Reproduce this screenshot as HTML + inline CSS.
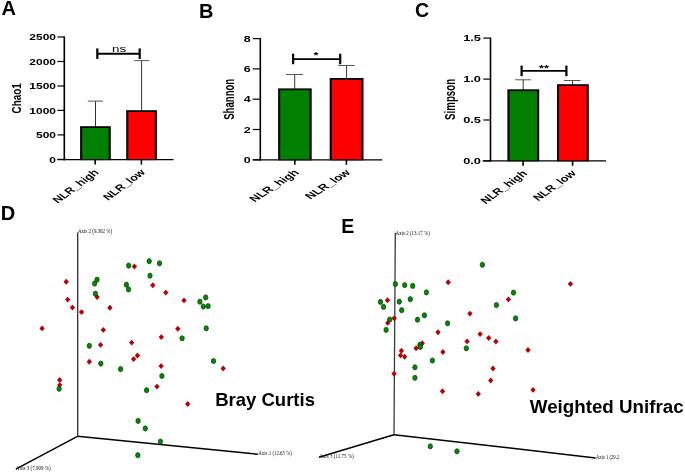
<!DOCTYPE html>
<html><head><meta charset="utf-8"><style>
html,body{margin:0;padding:0;background:#fff;}
body{width:685px;height:472px;overflow:hidden;}
svg{display:block;font-family:"Liberation Sans", sans-serif;will-change:transform;}
</style></head><body>
<svg width="685" height="472" viewBox="0 0 685 472">
<rect width="685" height="472" fill="#fff"/>
<text transform="translate(1.5,14.8)" font-size="20" font-weight="bold" text-anchor="start" fill="#000" >A</text>
<text transform="translate(198.9,17.8)" font-size="20" font-weight="bold" text-anchor="start" fill="#000" >B</text>
<text transform="translate(415.0,16.6)" font-size="19.6" font-weight="bold" text-anchor="start" fill="#000" >C</text>
<text transform="translate(0.8,220.1)" font-size="20" font-weight="bold" text-anchor="start" fill="#000" >D</text>
<text transform="translate(341.2,232.7)" font-size="19.5" font-weight="bold" text-anchor="start" fill="#000" >E</text>
<line x1="64.3" y1="36.5" x2="64.3" y2="160.35" stroke="#000" stroke-width="1.6"/>
<line x1="57.5" y1="37.0" x2="64.3" y2="37.0" stroke="#000" stroke-width="1.2"/>
<text transform="translate(56.0,40.1) scale(1,0.8)" font-size="12" font-weight="bold" text-anchor="end" fill="#000" >2500</text>
<line x1="57.5" y1="61.5" x2="64.3" y2="61.5" stroke="#000" stroke-width="1.2"/>
<text transform="translate(56.0,64.6) scale(1,0.8)" font-size="12" font-weight="bold" text-anchor="end" fill="#000" >2000</text>
<line x1="57.5" y1="86.0" x2="64.3" y2="86.0" stroke="#000" stroke-width="1.2"/>
<text transform="translate(56.0,89.1) scale(1,0.8)" font-size="12" font-weight="bold" text-anchor="end" fill="#000" >1500</text>
<line x1="57.5" y1="110.4" x2="64.3" y2="110.4" stroke="#000" stroke-width="1.2"/>
<text transform="translate(56.0,113.5) scale(1,0.8)" font-size="12" font-weight="bold" text-anchor="end" fill="#000" >1000</text>
<line x1="57.5" y1="134.9" x2="64.3" y2="134.9" stroke="#000" stroke-width="1.2"/>
<text transform="translate(56.0,138.0) scale(1,0.8)" font-size="12" font-weight="bold" text-anchor="end" fill="#000" >500</text>
<line x1="57.5" y1="159.4" x2="64.3" y2="159.4" stroke="#000" stroke-width="1.2"/>
<text transform="translate(56.0,162.5) scale(1,0.8)" font-size="12" font-weight="bold" text-anchor="end" fill="#000" >0</text>
<line x1="57.5" y1="159.6" x2="173.5" y2="159.6" stroke="#000" stroke-width="1.35"/>
<line x1="95.2" y1="159.6" x2="95.2" y2="164.6" stroke="#000" stroke-width="1.6"/>
<line x1="141.4" y1="159.6" x2="141.4" y2="164.6" stroke="#000" stroke-width="1.6"/>
<line x1="95.5" y1="101.1" x2="95.5" y2="127" stroke="#333" stroke-width="1.0"/>
<line x1="87.8" y1="101.1" x2="102.9" y2="101.1" stroke="#555" stroke-width="1.0"/>
<line x1="141.6" y1="60.6" x2="141.6" y2="111" stroke="#333" stroke-width="1.0"/>
<line x1="134.1" y1="60.6" x2="149.1" y2="60.6" stroke="#555" stroke-width="1.0"/>
<rect x="80.10" y="126.20" width="30.70" height="33.90" fill="#000"/>
<rect x="82.20" y="128.00" width="26.50" height="31.10" fill="#007f00"/>
<rect x="126.20" y="110.20" width="30.70" height="49.90" fill="#000"/>
<rect x="128.30" y="112.00" width="26.50" height="47.10" fill="#ff0000"/>
<line x1="97.3" y1="53.7" x2="139.7" y2="53.7" stroke="#000" stroke-width="1.9"/>
<line x1="97.3" y1="48.4" x2="97.3" y2="58.9" stroke="#000" stroke-width="2.2"/>
<line x1="139.7" y1="48.4" x2="139.7" y2="58.9" stroke="#000" stroke-width="2.2"/>
<text transform="translate(119.2,51.9) scale(1,0.74)" font-size="13.5" font-weight="normal" text-anchor="middle" fill="#000" >ns</text>
<text transform="translate(20.9,98.4) scale(1,0.732) rotate(-90)" font-size="13.5" font-weight="bold" text-anchor="middle" fill="#000" >Chao1</text>
<text transform="translate(99.5,173.0) scale(1,0.74) rotate(-45)" font-size="12.5" font-weight="bold" text-anchor="end" fill="#000" >NLR_high</text>
<text transform="translate(146.0,173.0) scale(1,0.74) rotate(-45)" font-size="12.5" font-weight="bold" text-anchor="end" fill="#000" >NLR_low</text>
<line x1="260.3" y1="38.1" x2="260.3" y2="160.55" stroke="#000" stroke-width="1.6"/>
<line x1="252.7" y1="38.6" x2="260.3" y2="38.6" stroke="#000" stroke-width="1.2"/>
<text transform="translate(250.6,41.7) scale(1,0.74)" font-size="12.5" font-weight="bold" text-anchor="end" fill="#000" >8</text>
<line x1="252.7" y1="68.9" x2="260.3" y2="68.9" stroke="#000" stroke-width="1.2"/>
<text transform="translate(250.6,72.0) scale(1,0.74)" font-size="12.5" font-weight="bold" text-anchor="end" fill="#000" >6</text>
<line x1="252.7" y1="99.2" x2="260.3" y2="99.2" stroke="#000" stroke-width="1.2"/>
<text transform="translate(250.6,102.3) scale(1,0.74)" font-size="12.5" font-weight="bold" text-anchor="end" fill="#000" >4</text>
<line x1="252.7" y1="129.5" x2="260.3" y2="129.5" stroke="#000" stroke-width="1.2"/>
<text transform="translate(250.6,132.6) scale(1,0.74)" font-size="12.5" font-weight="bold" text-anchor="end" fill="#000" >2</text>
<line x1="252.7" y1="159.8" x2="260.3" y2="159.8" stroke="#000" stroke-width="1.2"/>
<text transform="translate(250.6,162.9) scale(1,0.74)" font-size="12.5" font-weight="bold" text-anchor="end" fill="#000" >0</text>
<line x1="252.7" y1="159.8" x2="382.3" y2="159.8" stroke="#000" stroke-width="1.35"/>
<line x1="294.8" y1="159.8" x2="294.8" y2="164.8" stroke="#000" stroke-width="1.6"/>
<line x1="346.4" y1="159.8" x2="346.4" y2="164.8" stroke="#000" stroke-width="1.6"/>
<line x1="294.7" y1="74.5" x2="294.7" y2="89" stroke="#333" stroke-width="1.0"/>
<line x1="286.0" y1="74.5" x2="303.1" y2="74.5" stroke="#555" stroke-width="1.0"/>
<line x1="346.6" y1="65.5" x2="346.6" y2="79" stroke="#333" stroke-width="1.0"/>
<line x1="338.1" y1="65.5" x2="354.9" y2="65.5" stroke="#555" stroke-width="1.0"/>
<rect x="278.10" y="88.40" width="33.60" height="71.90" fill="#000"/>
<rect x="280.20" y="90.20" width="29.40" height="69.10" fill="#007f00"/>
<rect x="329.70" y="78.00" width="33.80" height="82.30" fill="#000"/>
<rect x="331.80" y="79.80" width="29.60" height="79.50" fill="#ff0000"/>
<line x1="293.1" y1="59.1" x2="340.2" y2="59.1" stroke="#000" stroke-width="1.9"/>
<line x1="293.1" y1="53.7" x2="293.1" y2="64.2" stroke="#000" stroke-width="2.2"/>
<line x1="340.2" y1="53.7" x2="340.2" y2="64.2" stroke="#000" stroke-width="2.2"/>
<text transform="translate(315.9,58.0) scale(1,0.74)" font-size="12.8" font-weight="bold" text-anchor="middle" fill="#000" >*</text>
<text transform="translate(234.0,99.3) scale(1,0.64) rotate(-90)" font-size="15" font-weight="bold" text-anchor="middle" fill="#000" >Shannon</text>
<text transform="translate(299.8,173.2) scale(1,0.65) rotate(-45)" font-size="13.5" font-weight="bold" text-anchor="end" fill="#000" >NLR_high</text>
<text transform="translate(351.3,173.2) scale(1,0.65) rotate(-45)" font-size="13.5" font-weight="bold" text-anchor="end" fill="#000" >NLR_low</text>
<line x1="490.5" y1="37.6" x2="490.5" y2="161.55" stroke="#000" stroke-width="1.6"/>
<line x1="483.3" y1="38.1" x2="490.5" y2="38.1" stroke="#000" stroke-width="1.2"/>
<text transform="translate(481.0,41.2) scale(1,0.72)" font-size="12.8" font-weight="bold" text-anchor="end" fill="#000" >1.5</text>
<line x1="483.3" y1="79.1" x2="490.5" y2="79.1" stroke="#000" stroke-width="1.2"/>
<text transform="translate(481.0,82.19999999999999) scale(1,0.72)" font-size="12.8" font-weight="bold" text-anchor="end" fill="#000" >1.0</text>
<line x1="483.3" y1="120.0" x2="490.5" y2="120.0" stroke="#000" stroke-width="1.2"/>
<text transform="translate(481.0,123.1) scale(1,0.72)" font-size="12.8" font-weight="bold" text-anchor="end" fill="#000" >0.5</text>
<line x1="483.3" y1="160.9" x2="490.5" y2="160.9" stroke="#000" stroke-width="1.2"/>
<text transform="translate(481.0,164.0) scale(1,0.72)" font-size="12.8" font-weight="bold" text-anchor="end" fill="#000" >0.0</text>
<line x1="482.7" y1="160.8" x2="606.0" y2="160.8" stroke="#000" stroke-width="1.35"/>
<line x1="523.1" y1="160.8" x2="523.1" y2="165.8" stroke="#000" stroke-width="1.6"/>
<line x1="572.6" y1="160.8" x2="572.6" y2="165.8" stroke="#000" stroke-width="1.6"/>
<line x1="523.2" y1="79.8" x2="523.2" y2="90" stroke="#333" stroke-width="1.0"/>
<line x1="515.0" y1="79.8" x2="530.9" y2="79.8" stroke="#555" stroke-width="1.0"/>
<line x1="572.6" y1="80.5" x2="572.6" y2="85" stroke="#333" stroke-width="1.0"/>
<line x1="564.0" y1="80.5" x2="580.6" y2="80.5" stroke="#555" stroke-width="1.0"/>
<rect x="507.40" y="89.30" width="31.80" height="72.00" fill="#000"/>
<rect x="509.50" y="91.10" width="27.60" height="69.20" fill="#007f00"/>
<rect x="557.00" y="84.20" width="31.80" height="77.10" fill="#000"/>
<rect x="559.10" y="86.00" width="27.60" height="74.30" fill="#ff0000"/>
<line x1="521.6" y1="70.9" x2="566.4" y2="70.9" stroke="#000" stroke-width="1.9"/>
<line x1="521.6" y1="65.6" x2="521.6" y2="76.2" stroke="#000" stroke-width="2.2"/>
<line x1="566.4" y1="65.6" x2="566.4" y2="76.2" stroke="#000" stroke-width="2.2"/>
<text transform="translate(544.0,71.1) scale(1,0.74)" font-size="12.8" font-weight="bold" text-anchor="middle" fill="#000" >**</text>
<text transform="translate(454.8,99.4) scale(1,0.647) rotate(-90)" font-size="15" font-weight="bold" text-anchor="middle" fill="#000" >Simpson</text>
<text transform="translate(528.0,174.0) scale(1,0.72) rotate(-45)" font-size="12.7" font-weight="bold" text-anchor="end" fill="#000" >NLR_high</text>
<text transform="translate(576.7,174.0) scale(1,0.72) rotate(-45)" font-size="12.7" font-weight="bold" text-anchor="end" fill="#000" >NLR_low</text>
<line x1="77.7" y1="232.5" x2="77.7" y2="436.3" stroke="#2e2e2e" stroke-width="1.3"/>
<line x1="77.5" y1="436.3" x2="15.8" y2="469.1" stroke="#000" stroke-width="1.5"/>
<line x1="77.5" y1="436.3" x2="257.8" y2="454.3" stroke="#000" stroke-width="1.5"/>
<text transform="translate(77.9,232.8)" font-size="5.1" font-weight="normal" text-anchor="start" fill="#111" font-family="Liberation Serif" textLength="34.2" lengthAdjust="spacingAndGlyphs">Axis 2 (9.302 %)</text>
<text transform="translate(16.1,469.8)" font-size="5.1" font-weight="normal" text-anchor="start" fill="#111" font-family="Liberation Serif" textLength="34.5" lengthAdjust="spacingAndGlyphs">Axis 3 (7.909 %)</text>
<text transform="translate(258.3,455.2)" font-size="5.1" font-weight="normal" text-anchor="start" fill="#111" font-family="Liberation Serif" textLength="33.6" lengthAdjust="spacingAndGlyphs">Axis 1 (12.65 %)</text>
<path d="M66.20 278.85L68.85 281.80L66.20 284.75L63.55 281.80Z" fill="#b80000"/>
<path d="M67.70 296.65L70.35 299.60L67.70 302.55L65.05 299.60Z" fill="#b80000"/>
<path d="M72.40 304.65L75.05 307.60L72.40 310.55L69.75 307.60Z" fill="#b80000"/>
<path d="M81.50 309.15L84.15 312.10L81.50 315.05L78.85 312.10Z" fill="#b80000"/>
<path d="M42.10 325.45L44.75 328.40L42.10 331.35L39.45 328.40Z" fill="#b80000"/>
<path d="M97.10 294.05L99.75 297.00L97.10 299.95L94.45 297.00Z" fill="#b80000"/>
<path d="M109.90 304.85L112.55 307.80L109.90 310.75L107.25 307.80Z" fill="#b80000"/>
<path d="M103.30 326.95L105.95 329.90L103.30 332.85L100.65 329.90Z" fill="#b80000"/>
<path d="M100.60 341.95L103.25 344.90L100.60 347.85L97.95 344.90Z" fill="#b80000"/>
<path d="M131.70 339.65L134.35 342.60L131.70 345.55L129.05 342.60Z" fill="#b80000"/>
<path d="M134.40 263.55L137.05 266.50L134.40 269.45L131.75 266.50Z" fill="#b80000"/>
<path d="M152.80 282.25L155.45 285.20L152.80 288.15L150.15 285.20Z" fill="#b80000"/>
<path d="M165.80 289.65L168.45 292.60L165.80 295.55L163.15 292.60Z" fill="#b80000"/>
<path d="M184.00 297.45L186.65 300.40L184.00 303.35L181.35 300.40Z" fill="#b80000"/>
<path d="M177.80 325.85L180.45 328.80L177.80 331.75L175.15 328.80Z" fill="#b80000"/>
<path d="M161.30 334.15L163.95 337.10L161.30 340.05L158.65 337.10Z" fill="#b80000"/>
<path d="M137.40 352.55L140.05 355.50L137.40 358.45L134.75 355.50Z" fill="#b80000"/>
<path d="M133.60 356.15L136.25 359.10L133.60 362.05L130.95 359.10Z" fill="#b80000"/>
<path d="M161.10 363.15L163.75 366.10L161.10 369.05L158.45 366.10Z" fill="#b80000"/>
<path d="M156.90 383.65L159.55 386.60L156.90 389.55L154.25 386.60Z" fill="#b80000"/>
<path d="M187.70 401.05L190.35 404.00L187.70 406.95L185.05 404.00Z" fill="#b80000"/>
<path d="M89.30 358.85L91.95 361.80L89.30 364.75L86.65 361.80Z" fill="#b80000"/>
<path d="M59.70 377.05L62.35 380.00L59.70 382.95L57.05 380.00Z" fill="#b80000"/>
<path d="M59.70 382.15L62.35 385.10L59.70 388.05L57.05 385.10Z" fill="#b80000"/>
<path d="M223.20 365.55L225.85 368.50L223.20 371.45L220.55 368.50Z" fill="#b80000"/>
<ellipse cx="97.0" cy="279.7" rx="2.2" ry="2.6" fill="#008a00" stroke="#003a00" stroke-width="0.7"/>
<ellipse cx="94.6" cy="283.6" rx="2.2" ry="2.6" fill="#008a00" stroke="#003a00" stroke-width="0.7"/>
<ellipse cx="95.4" cy="293.7" rx="2.2" ry="2.6" fill="#008a00" stroke="#003a00" stroke-width="0.7"/>
<ellipse cx="89.3" cy="345.8" rx="2.2" ry="2.6" fill="#008a00" stroke="#003a00" stroke-width="0.7"/>
<ellipse cx="128.7" cy="265.6" rx="2.2" ry="2.6" fill="#008a00" stroke="#003a00" stroke-width="0.7"/>
<ellipse cx="126.4" cy="284.7" rx="2.2" ry="2.6" fill="#008a00" stroke="#003a00" stroke-width="0.7"/>
<ellipse cx="128.5" cy="289.4" rx="2.2" ry="2.6" fill="#008a00" stroke="#003a00" stroke-width="0.7"/>
<ellipse cx="149.2" cy="261.2" rx="2.2" ry="2.6" fill="#008a00" stroke="#003a00" stroke-width="0.7"/>
<ellipse cx="159.5" cy="263.3" rx="2.2" ry="2.6" fill="#008a00" stroke="#003a00" stroke-width="0.7"/>
<ellipse cx="150.0" cy="275.7" rx="2.2" ry="2.6" fill="#008a00" stroke="#003a00" stroke-width="0.7"/>
<ellipse cx="205.7" cy="297.4" rx="2.2" ry="2.6" fill="#008a00" stroke="#003a00" stroke-width="0.7"/>
<ellipse cx="199.9" cy="301.7" rx="2.2" ry="2.6" fill="#008a00" stroke="#003a00" stroke-width="0.7"/>
<ellipse cx="203.3" cy="306.5" rx="2.2" ry="2.6" fill="#008a00" stroke="#003a00" stroke-width="0.7"/>
<ellipse cx="208.1" cy="306.1" rx="2.2" ry="2.6" fill="#008a00" stroke="#003a00" stroke-width="0.7"/>
<ellipse cx="206.2" cy="328.3" rx="2.2" ry="2.6" fill="#008a00" stroke="#003a00" stroke-width="0.7"/>
<ellipse cx="182.1" cy="338.3" rx="2.2" ry="2.6" fill="#008a00" stroke="#003a00" stroke-width="0.7"/>
<ellipse cx="100.8" cy="363.6" rx="2.2" ry="2.6" fill="#008a00" stroke="#003a00" stroke-width="0.7"/>
<ellipse cx="120.6" cy="369.1" rx="2.2" ry="2.6" fill="#008a00" stroke="#003a00" stroke-width="0.7"/>
<ellipse cx="59.1" cy="388.8" rx="2.2" ry="2.6" fill="#008a00" stroke="#003a00" stroke-width="0.7"/>
<ellipse cx="213.5" cy="361.0" rx="2.2" ry="2.6" fill="#008a00" stroke="#003a00" stroke-width="0.7"/>
<ellipse cx="161.9" cy="376.0" rx="2.2" ry="2.6" fill="#008a00" stroke="#003a00" stroke-width="0.7"/>
<ellipse cx="146.6" cy="390.2" rx="2.2" ry="2.6" fill="#008a00" stroke="#003a00" stroke-width="0.7"/>
<ellipse cx="138.1" cy="420.9" rx="2.2" ry="2.6" fill="#008a00" stroke="#003a00" stroke-width="0.7"/>
<ellipse cx="145.3" cy="428.4" rx="2.2" ry="2.6" fill="#008a00" stroke="#003a00" stroke-width="0.7"/>
<ellipse cx="160.4" cy="441.6" rx="2.2" ry="2.6" fill="#008a00" stroke="#003a00" stroke-width="0.7"/>
<ellipse cx="137.8" cy="455.2" rx="2.2" ry="2.6" fill="#008a00" stroke="#003a00" stroke-width="0.7"/>
<text transform="translate(215.2,406.3)" font-size="18.5" font-weight="bold" text-anchor="start" fill="#000" >Bray Curtis</text>
<line x1="395.3" y1="232.8" x2="394.0" y2="434.7" stroke="#3a3a3a" stroke-width="1.3"/>
<line x1="393.9" y1="434.7" x2="318.9" y2="457.3" stroke="#000" stroke-width="1.5"/>
<line x1="393.9" y1="434.7" x2="595.6" y2="457.9" stroke="#000" stroke-width="1.5"/>
<text transform="translate(395.6,234.6)" font-size="5.1" font-weight="normal" text-anchor="start" fill="#111" font-family="Liberation Serif" textLength="34.2" lengthAdjust="spacingAndGlyphs">Axis 2 (13.17 %)</text>
<text transform="translate(319.2,458.0)" font-size="5.1" font-weight="normal" text-anchor="start" fill="#111" font-family="Liberation Serif" textLength="34.5" lengthAdjust="spacingAndGlyphs">Axis 3 (11.75 %)</text>
<text transform="translate(595.9,458.7)" font-size="5.1" font-weight="normal" text-anchor="start" fill="#111" font-family="Liberation Serif" textLength="23.3" lengthAdjust="spacingAndGlyphs">Axis 1 (29.2</text>
<path d="M448.20 279.25L450.85 282.20L448.20 285.15L445.55 282.20Z" fill="#b80000"/>
<path d="M387.50 297.25L390.15 300.20L387.50 303.15L384.85 300.20Z" fill="#b80000"/>
<path d="M394.20 315.35L396.85 318.30L394.20 321.25L391.55 318.30Z" fill="#b80000"/>
<path d="M387.80 319.95L390.45 322.90L387.80 325.85L385.15 322.90Z" fill="#b80000"/>
<path d="M438.00 329.25L440.65 332.20L438.00 335.15L435.35 332.20Z" fill="#b80000"/>
<path d="M422.30 340.25L424.95 343.20L422.30 346.15L419.65 343.20Z" fill="#b80000"/>
<path d="M416.10 345.25L418.75 348.20L416.10 351.15L413.45 348.20Z" fill="#b80000"/>
<path d="M401.40 347.85L404.05 350.80L401.40 353.75L398.75 350.80Z" fill="#b80000"/>
<path d="M400.50 352.45L403.15 355.40L400.50 358.35L397.85 355.40Z" fill="#b80000"/>
<path d="M404.60 353.85L407.25 356.80L404.60 359.75L401.95 356.80Z" fill="#b80000"/>
<path d="M442.90 349.05L445.55 352.00L442.90 354.95L440.25 352.00Z" fill="#b80000"/>
<path d="M394.10 370.75L396.75 373.70L394.10 376.65L391.45 373.70Z" fill="#b80000"/>
<path d="M442.50 388.35L445.15 391.30L442.50 394.25L439.85 391.30Z" fill="#b80000"/>
<path d="M508.40 296.45L511.05 299.40L508.40 302.35L505.75 299.40Z" fill="#b80000"/>
<path d="M469.90 310.65L472.55 313.60L469.90 316.55L467.25 313.60Z" fill="#b80000"/>
<path d="M480.10 331.15L482.75 334.10L480.10 337.05L477.45 334.10Z" fill="#b80000"/>
<path d="M488.70 335.05L491.35 338.00L488.70 340.95L486.05 338.00Z" fill="#b80000"/>
<path d="M495.90 338.55L498.55 341.50L495.90 344.45L493.25 341.50Z" fill="#b80000"/>
<path d="M467.10 338.45L469.75 341.40L467.10 344.35L464.45 341.40Z" fill="#b80000"/>
<path d="M528.00 347.05L530.65 350.00L528.00 352.95L525.35 350.00Z" fill="#b80000"/>
<path d="M493.00 365.55L495.65 368.50L493.00 371.45L490.35 368.50Z" fill="#b80000"/>
<path d="M490.70 377.55L493.35 380.50L490.70 383.45L488.05 380.50Z" fill="#b80000"/>
<path d="M478.30 390.95L480.95 393.90L478.30 396.85L475.65 393.90Z" fill="#b80000"/>
<path d="M533.00 386.95L535.65 389.90L533.00 392.85L530.35 389.90Z" fill="#b80000"/>
<path d="M570.40 280.95L573.05 283.90L570.40 286.85L567.75 283.90Z" fill="#b80000"/>
<ellipse cx="395.4" cy="284.1" rx="2.2" ry="2.6" fill="#008a00" stroke="#003a00" stroke-width="0.7"/>
<ellipse cx="404.7" cy="285.1" rx="2.2" ry="2.6" fill="#008a00" stroke="#003a00" stroke-width="0.7"/>
<ellipse cx="412.7" cy="285.9" rx="2.2" ry="2.6" fill="#008a00" stroke="#003a00" stroke-width="0.7"/>
<ellipse cx="426.4" cy="292.4" rx="2.2" ry="2.6" fill="#008a00" stroke="#003a00" stroke-width="0.7"/>
<ellipse cx="380.5" cy="301.9" rx="2.2" ry="2.6" fill="#008a00" stroke="#003a00" stroke-width="0.7"/>
<ellipse cx="383.6" cy="306.9" rx="2.2" ry="2.6" fill="#008a00" stroke="#003a00" stroke-width="0.7"/>
<ellipse cx="399.3" cy="301.7" rx="2.2" ry="2.6" fill="#008a00" stroke="#003a00" stroke-width="0.7"/>
<ellipse cx="410.3" cy="299.2" rx="2.2" ry="2.6" fill="#008a00" stroke="#003a00" stroke-width="0.7"/>
<ellipse cx="401.7" cy="310.2" rx="2.2" ry="2.6" fill="#008a00" stroke="#003a00" stroke-width="0.7"/>
<ellipse cx="424.4" cy="315.3" rx="2.2" ry="2.6" fill="#008a00" stroke="#003a00" stroke-width="0.7"/>
<ellipse cx="417.5" cy="319.7" rx="2.2" ry="2.6" fill="#008a00" stroke="#003a00" stroke-width="0.7"/>
<ellipse cx="389.7" cy="319.5" rx="2.2" ry="2.6" fill="#008a00" stroke="#003a00" stroke-width="0.7"/>
<ellipse cx="386.1" cy="329.9" rx="2.2" ry="2.6" fill="#008a00" stroke="#003a00" stroke-width="0.7"/>
<ellipse cx="447.6" cy="323.3" rx="2.2" ry="2.6" fill="#008a00" stroke="#003a00" stroke-width="0.7"/>
<ellipse cx="419.9" cy="344.7" rx="2.2" ry="2.6" fill="#008a00" stroke="#003a00" stroke-width="0.7"/>
<ellipse cx="420.3" cy="347.0" rx="2.2" ry="2.6" fill="#008a00" stroke="#003a00" stroke-width="0.7"/>
<ellipse cx="432.4" cy="360.5" rx="2.2" ry="2.6" fill="#008a00" stroke="#003a00" stroke-width="0.7"/>
<ellipse cx="414.9" cy="367.3" rx="2.2" ry="2.6" fill="#008a00" stroke="#003a00" stroke-width="0.7"/>
<ellipse cx="414.9" cy="377.8" rx="2.2" ry="2.6" fill="#008a00" stroke="#003a00" stroke-width="0.7"/>
<ellipse cx="482.4" cy="264.8" rx="2.2" ry="2.6" fill="#008a00" stroke="#003a00" stroke-width="0.7"/>
<ellipse cx="513.5" cy="292.6" rx="2.2" ry="2.6" fill="#008a00" stroke="#003a00" stroke-width="0.7"/>
<ellipse cx="496.4" cy="305.1" rx="2.2" ry="2.6" fill="#008a00" stroke="#003a00" stroke-width="0.7"/>
<ellipse cx="515.6" cy="318.4" rx="2.2" ry="2.6" fill="#008a00" stroke="#003a00" stroke-width="0.7"/>
<ellipse cx="466.3" cy="348.3" rx="2.2" ry="2.6" fill="#008a00" stroke="#003a00" stroke-width="0.7"/>
<ellipse cx="430.3" cy="446.3" rx="2.2" ry="2.6" fill="#008a00" stroke="#003a00" stroke-width="0.7"/>
<ellipse cx="457.0" cy="451.3" rx="2.2" ry="2.6" fill="#008a00" stroke="#003a00" stroke-width="0.7"/>
<text transform="translate(529.8,412.6)" font-size="18.75" font-weight="bold" text-anchor="start" fill="#000" >Weighted Unifrac</text>
</svg>
</body></html>
